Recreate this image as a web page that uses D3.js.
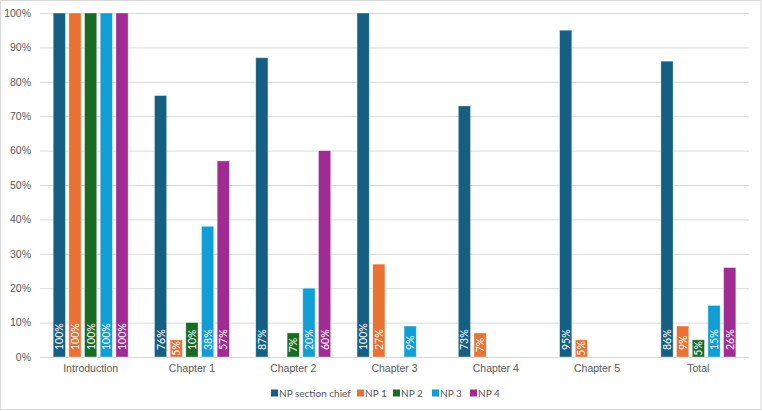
<!DOCTYPE html>
<html>
<head>
<meta charset="utf-8">
<script src="https://cdn.jsdelivr.net/npm/d3@7"></script>
<style>
  html, body { margin: 0; padding: 0; background: #fff; }
  svg { display: block; font-family: Lato, 'Open Sans', sans-serif; }
</style>
</head>
<body>
<div id="svg-container"></div>
<script>
const categories = ['Introduction', 'Chapter 1', 'Chapter 2', 'Chapter 3', 'Chapter 4', 'Chapter 5', 'Total']
const seriesNames = ['NP section chief', 'NP 1', 'NP 2', 'NP 3', 'NP 4']
const npSectionChief = [100, 76, 87, 100, 73, 95, 86]
const np1 = [100, 5, null, 27, 7, 5, 9]
const np2 = [100, 10, 7, null, null, null, 5]
const np3 = [100, 38, 20, 9, null, null, 15]
const np4 = [100, 57, 60, null, null, null, 26]
const yTicks = [0, 10, 20, 30, 40, 50, 60, 70, 80, 90, 100]

const seriesValues = [npSectionChief, np1, np2, np3, np4]
const colors = ['#156082', '#E97132', '#196B24', '#0F9ED5', '#A02B93']

const svgWidth = 762
const svgHeight = 411
const marginLeft = 40
const marginRight = 13
const marginTop = 13
const plotBottom = 357

const width = svgWidth - marginLeft - marginRight
const height = plotBottom - marginTop

const svg = d3
  .select('#svg-container')
  .append('svg')
  .attr('width', svgWidth)
  .attr('height', svgHeight)

// outer chart border
svg
  .append('rect')
  .attr('x', 0.5)
  .attr('y', 0.5)
  .attr('width', svgWidth - 1.5)
  .attr('height', svgHeight - 2)
  .attr('fill', '#fff')
  .attr('stroke', '#d9d9d9')

const coreChart = svg
  .append('g')
  .attr('transform', `translate(${marginLeft}, ${marginTop})`)

const xScale = d3.scaleBand().domain(categories).range([0, width]).paddingInner(0).paddingOuter(0)
const groupWidth = xScale.bandwidth() * 0.74
const xSub = d3
  .scaleBand()
  .domain(seriesNames)
  .range([(xScale.bandwidth() - groupWidth) / 2, (xScale.bandwidth() + groupWidth) / 2])
  .paddingInner(0.22)

const yScale = d3.scaleLinear().domain([0, 100]).range([height, 0])

// gridlines + y labels
coreChart
  .append('g')
  .call(
    d3
      .axisLeft(yScale)
      .tickValues(yTicks)
      .tickSize(-width)
      .tickPadding(9)
      .tickFormat(d => `${d}%`),
  )
  .call(g => g.select('.domain').remove())
  .call(g => g.selectAll('.tick line').attr('stroke', '#d9d9d9'))
  .call(g =>
    g.selectAll('.tick text').attr('fill', '#595959').style('font-size', '10.5px'),
  )

// x labels
coreChart
  .append('g')
  .attr('transform', `translate(0, ${height})`)
  .call(d3.axisBottom(xScale).tickSize(0).tickPadding(8))
  .call(g => g.select('.domain').remove())
  .call(g =>
    g.selectAll('.tick text').attr('fill', '#595959').style('font-size', '10.5px'),
  )

const rows = []
seriesNames.forEach((s, si) => {
  categories.forEach((c, ci) => {
    const v = seriesValues[si][ci]
    if (v !== null) rows.push({ series: s, cat: c, value: v, color: colors[si] })
  })
})

const bars = coreChart
  .append('g')
  .selectAll('g')
  .data(rows)
  .join('g')
  .attr('transform', d => `translate(${xScale(d.cat) + xSub(d.series)}, 0)`)

bars
  .append('rect')
  .attr('y', d => yScale(d.value))
  .attr('width', xSub.bandwidth())
  .attr('height', d => height - yScale(d.value))
  .attr('fill', d => d.color)
  .attr('stroke', '#fff')
  .attr('stroke-opacity', 0.5)
  .attr('stroke-width', 0.75)

// inside-base labels; short bars get the label centred instead
bars
  .append('text')
  .text(d => `${d.value}%`)
  .attr('dominant-baseline', 'central')
  .attr('fill', '#fff')
  .style('font-size', '10.5px')
  .each(function (d) {
    const len = this.getComputedTextLength()
    const barH = height - yScale(d.value)
    const pad = Math.min(7, (barH - len) / 2)
    d3.select(this).attr(
      'transform',
      `translate(${xSub.bandwidth() / 2}, ${height - pad}) rotate(-90)`,
    )
  })

// legend
const legend = svg.append('g').attr('transform', 'translate(0, 393)')
const legendX = [271, 357, 393, 432, 470]
seriesNames.forEach((s, i) => {
  const item = legend.append('g').attr('transform', `translate(${legendX[i]}, 0)`)
  item
    .append('rect')
    .attr('x', 0)
    .attr('y', -3.5)
    .attr('width', 7)
    .attr('height', 7)
    .attr('fill', colors[i])
  item
    .append('text')
    .attr('x', 8)
    .attr('dominant-baseline', 'central')
    .attr('fill', '#595959')
    .style('font-size', '10px')
    .text(s)
})
</script>
</body>
</html>
